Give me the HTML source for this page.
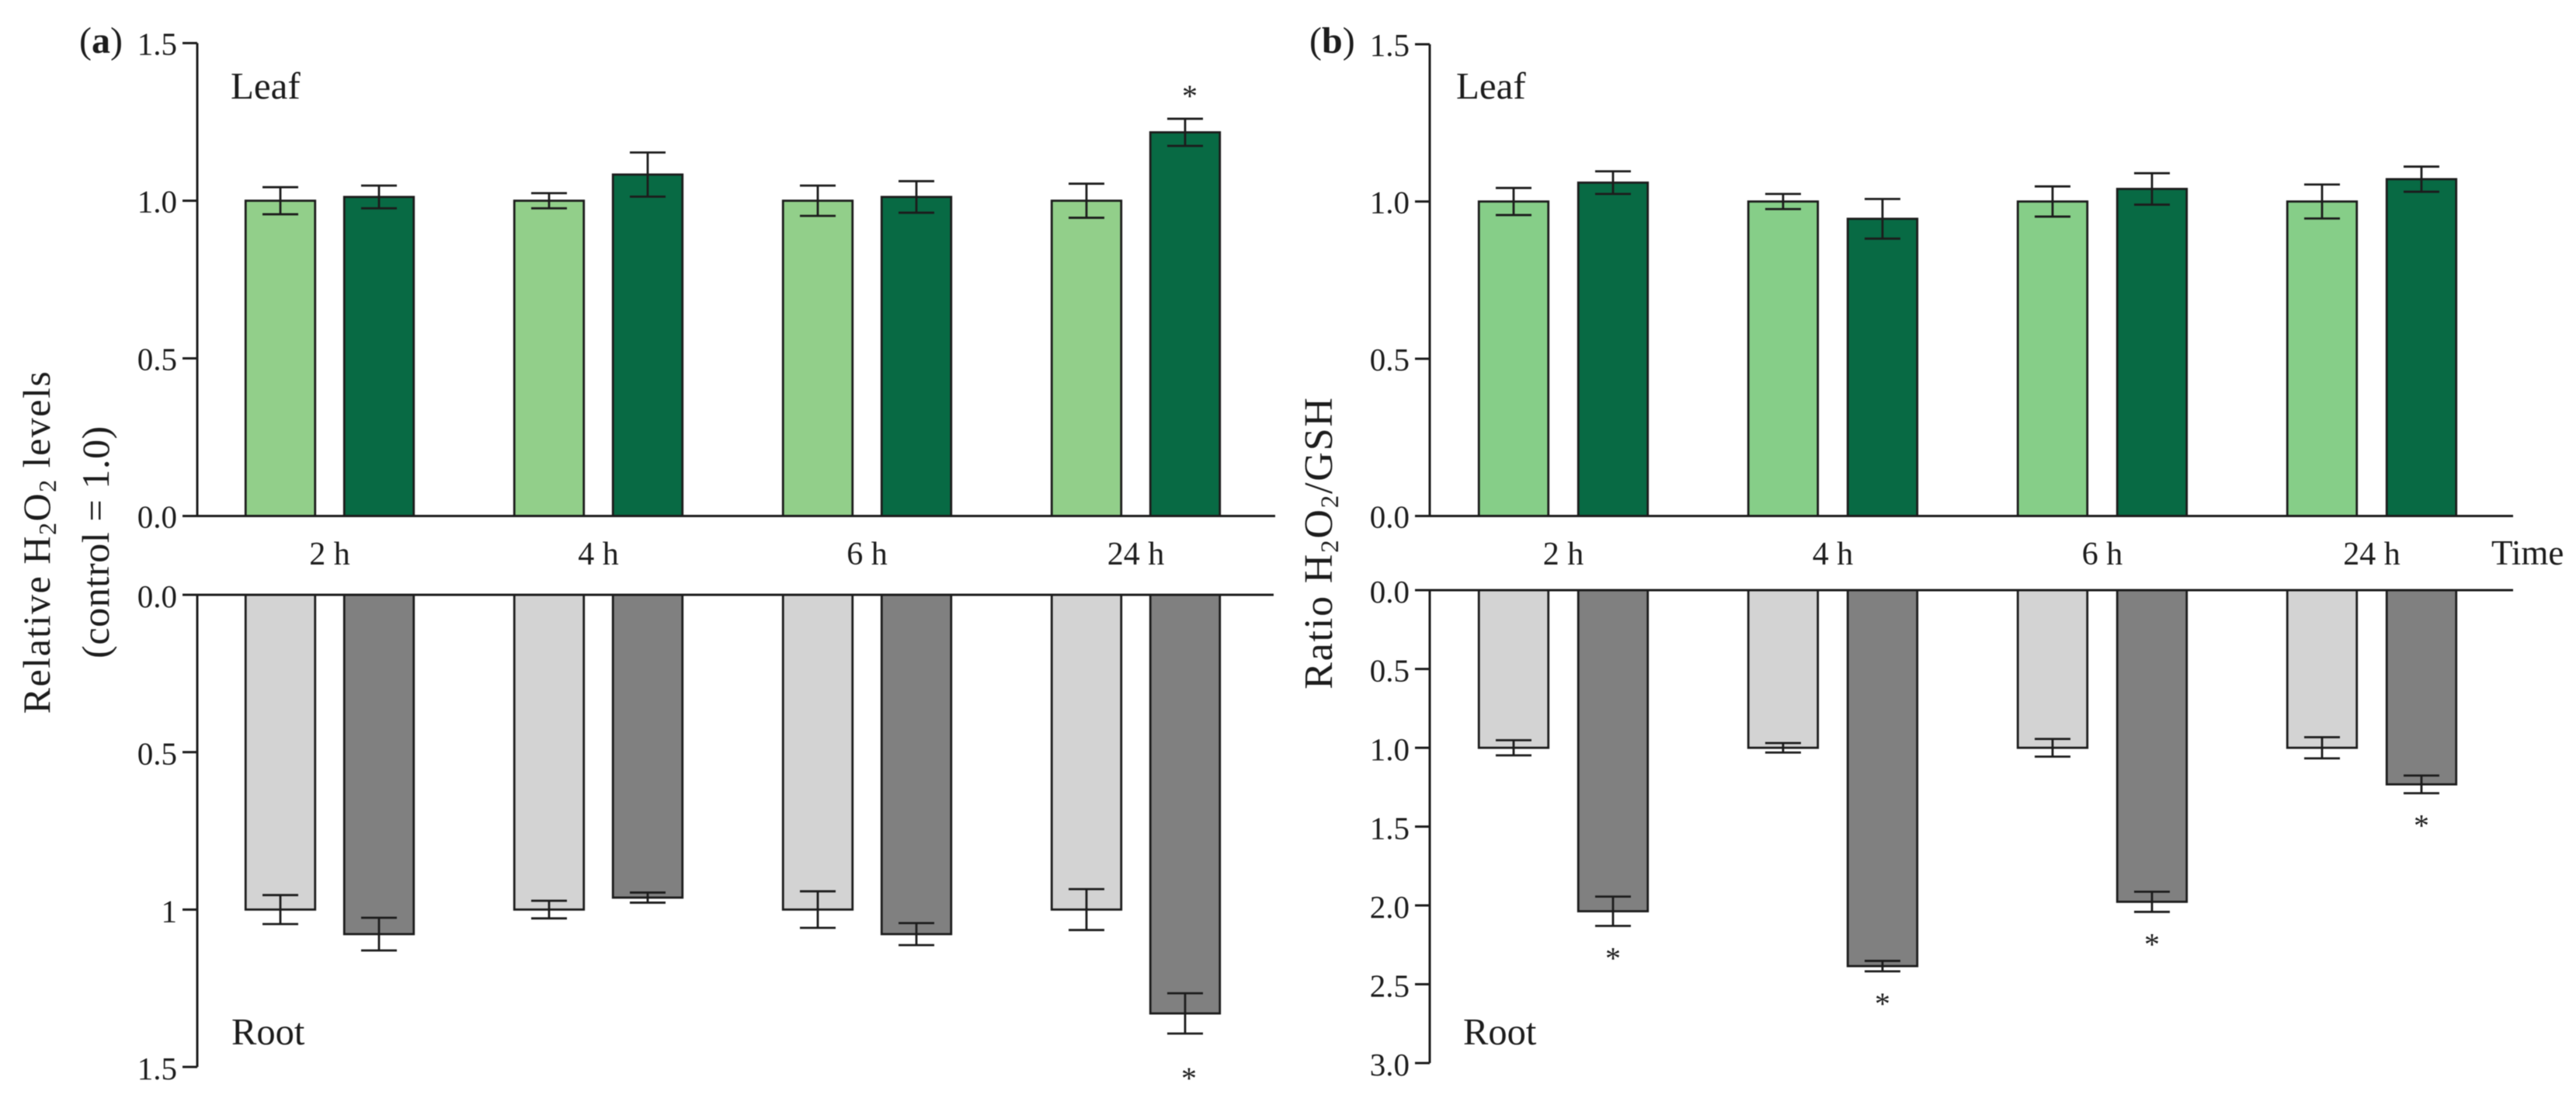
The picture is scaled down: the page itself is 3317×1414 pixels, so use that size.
<!DOCTYPE html>
<html lang="en">
<head>
<meta charset="utf-8">
<title>H2O2 levels and H2O2/GSH ratio in leaf and root</title>
<style>
html,body{margin:0;padding:0;background:#fff;width:3317px;height:1414px;overflow:hidden}
svg{display:block;filter:blur(0.5px)}
text{font-family:"Liberation Serif",serif;fill:#1c1c1c}
</style>
</head>
<body>
<svg id="chart" xmlns="http://www.w3.org/2000/svg" width="3317" height="1414" viewBox="0 0 3317 1414">
  <rect x="0" y="0" width="3317" height="1414" fill="#ffffff"/>

  <text x="102" y="68" font-size="48">(<tspan font-weight="bold">a</tspan>)</text>
  <text x="1686" y="68" font-size="48">(<tspan font-weight="bold">b</tspan>)</text>

  <text x="297" y="127" font-size="49">Leaf</text>
  <text x="298" y="1345" font-size="48.5">Root</text>
  <text x="1875" y="127" font-size="49">Leaf</text>
  <text x="1884" y="1345" font-size="48.5">Root</text>

  <text transform="translate(64,698) rotate(-90)" text-anchor="middle" font-size="50" letter-spacing="1.5">Relative H<tspan font-size="32" dy="8">2</tspan><tspan dy="-8">O</tspan><tspan font-size="32" dy="8">2</tspan><tspan dy="-8"> levels</tspan></text>
  <text transform="translate(140,698) rotate(-90)" text-anchor="middle" font-size="50" letter-spacing="0.6">(control = 1.0)</text>
  <text transform="translate(1715,699) rotate(-90)" text-anchor="middle" font-size="52" letter-spacing="1.8">Ratio H<tspan font-size="33" dy="8">2</tspan><tspan dy="-8">O</tspan><tspan font-size="33" dy="8">2</tspan><tspan dy="-8">/GSH</tspan></text>

  <text x="3208" y="727" font-size="45">Time</text>

  <g id="plots"></g>
</svg>

<script>
const categories = ['2 h', '4 h', '6 h', '24 h'];

const aTicks = [0, 0.5, 1, 1.5];
const aTopTickLabels = ['0.0', '0.5', '1.0', '1.5'];
const aBottomTickLabels = ['0.0', '0.5', '1', '1.5'];
const bTopTicks = [0, 0.5, 1, 1.5];
const bTopTickLabels = ['0.0', '0.5', '1.0', '1.5'];
const bBottomTicks = [0, 0.5, 1, 1.5, 2, 2.5, 3];
const bBottomTickLabels = ['0.0', '0.5', '1.0', '1.5', '2.0', '2.5', '3.0'];

const aLeafControl = [1.0, 1.0, 1.0, 1.0];
const aLeafControlErr = [0.043, 0.024, 0.048, 0.054];
const aLeafTreated = [1.012, 1.083, 1.012, 1.217];
const aLeafTreatedErr = [0.036, 0.07, 0.05, 0.043];
const aLeafStars = [0, 0, 0, 1];

const aRootControl = [1.0, 1.0, 1.0, 1.0];
const aRootControlErr = [0.046, 0.028, 0.058, 0.065];
const aRootTreated = [1.078, 0.962, 1.078, 1.33];
const aRootTreatedErr = [0.052, 0.016, 0.035, 0.064];
const aRootStars = [0, 0, 0, 1];

const bLeafControl = [1.0, 1.0, 1.0, 1.0];
const bLeafControlErr = [0.043, 0.024, 0.048, 0.054];
const bLeafTreated = [1.06, 0.945, 1.04, 1.071];
const bLeafTreatedErr = [0.036, 0.063, 0.05, 0.04];
const bLeafStars = [0, 0, 0, 0];

const bRootControl = [1.0, 1.0, 1.0, 1.0];
const bRootControlErr = [0.048, 0.03, 0.056, 0.067];
const bRootTreated = [2.037, 2.385, 1.977, 1.232];
const bRootTreatedErr = [0.093, 0.033, 0.064, 0.056];
const bRootStars = [1, 1, 1, 1];

const SVG_NS = 'http://www.w3.org/2000/svg';
const plots = document.getElementById('plots');
const INK = '#1c1c1c';

function mk(tag, attrs, parent) {
  const el = document.createElementNS(SVG_NS, tag);
  for (const k in attrs) el.setAttribute(k, attrs[k]);
  parent.appendChild(el);
  return el;
}

function linearScale(d0, d1, r0, r1) {
  return function (v) { return r0 + (v - d0) * (r1 - r0) / (d1 - d0); };
}

function drawBar(g, cx, y, y0, fill, name) {
  const w = 89.5;
  const top = Math.min(y, y0);
  const rect = mk('rect', { x: cx - w / 2, y: top, width: w, height: Math.abs(y - y0), fill: fill, stroke: INK, 'stroke-width': 2.8 }, g);
  
  
}

function drawError(g, cx, yLow, yHigh, name) {
  const cap = 23;
  const eb = mk('path', { d: 'M' + (cx - cap) + ' ' + yLow + 'H' + (cx + cap) + 'M' + (cx - cap) + ' ' + yHigh + 'H' + (cx + cap) + 'M' + cx + ' ' + yLow + 'V' + yHigh, fill: 'none', stroke: INK, 'stroke-width': 2.8 }, g);
  
  
}

function drawPanel(p) {
  const g = mk('g', {}, plots);
  
  
  const y = linearScale(p.domainMax, 0, p.yAtMax, p.yAtZero);
  const dir = p.yAtMax > p.yAtZero ? 1 : -1;

  categories.forEach(function (cat, i) {
    const xc = p.firstCenter + i * p.step;
    const xt = xc + p.pairOffset;
    drawBar(g, xc, y(p.control[i]), p.yAtZero, p.colors[0], p.name + '-control-bar-' + i);
    drawBar(g, xt, y(p.treated[i]), p.yAtZero, p.colors[1], p.name + '-treated-bar-' + i);
    drawError(g, xc, y(p.control[i] - p.controlErr[i]), y(p.control[i] + p.controlErr[i]), p.name + '-control-error-' + i);
    drawError(g, xt, y(p.treated[i] - p.treatedErr[i]), y(p.treated[i] + p.treatedErr[i]), p.name + '-treated-error-' + i);
    if (p.stars[i]) {
      const tipY = y(p.treated[i] + p.treatedErr[i]);
      const star = mk('text', { x: xt + p.starDx, y: tipY + dir * p.starGap + 19, 'text-anchor': 'middle', 'font-size': 40 }, g);
      star.textContent = '*';
      
      
    }
    if (p.showCategories) {
      const lab = mk('text', { x: xc + p.pairOffset / 2, y: 727, 'text-anchor': 'middle', 'font-size': 42 }, g);
      lab.textContent = cat;
      
      
    }
  });

  const yAxis = mk('line', { x1: p.axisX, x2: p.axisX, y1: y(p.domainMax), y2: p.yAtZero, stroke: INK, 'stroke-width': 3 }, g);
  
  

  const xAxis = mk('line', { x1: p.axisX - 19, x2: p.axisEnd, y1: p.yAtZero, y2: p.yAtZero, stroke: INK, 'stroke-width': 3 }, g);
  
  

  p.ticks.forEach(function (t, i) {
    const ty = y(t);
    const tick = mk('line', { x1: p.axisX - 19, x2: p.axisX, y1: ty, y2: ty, stroke: INK, 'stroke-width': 3 }, g);
    
    
    const lab = mk('text', { x: p.axisX - 26, y: ty + p.labelDy, 'text-anchor': 'end', 'font-size': 41 }, g);
    lab.textContent = p.tickLabels[i];
    
    
  });
}

drawPanel({
  name: 'panel-a-leaf', control: aLeafControl, controlErr: aLeafControlErr, treated: aLeafTreated, treatedErr: aLeafTreatedErr, stars: aLeafStars,
  ticks: aTicks, tickLabels: aTopTickLabels, domainMax: 1.5, yAtMax: 55.5, yAtZero: 664.5,
  firstCenter: 361, step: 346, pairOffset: 127, axisX: 254, axisEnd: 1642, labelDy: 15,
  colors: ['#92cf8a', '#086a44'], starGap: 35, starDx: 6, showCategories: true
});
drawPanel({
  name: 'panel-a-root', control: aRootControl, controlErr: aRootControlErr, treated: aRootTreated, treatedErr: aRootTreatedErr, stars: aRootStars,
  ticks: aTicks, tickLabels: aBottomTickLabels, domainMax: 1.5, yAtMax: 1374, yAtZero: 766,
  firstCenter: 361, step: 346, pairOffset: 127, axisX: 254, axisEnd: 1640, labelDy: 16,
  colors: ['#d3d3d3', '#808080'], starGap: 52, starDx: 5, showCategories: false
});
drawPanel({
  name: 'panel-b-leaf', control: bLeafControl, controlErr: bLeafControlErr, treated: bLeafTreated, treatedErr: bLeafTreatedErr, stars: bLeafStars,
  ticks: bTopTicks, tickLabels: bTopTickLabels, domainMax: 1.5, yAtMax: 57, yAtZero: 664.5,
  firstCenter: 1949, step: 347, pairOffset: 128, axisX: 1841, axisEnd: 3236, labelDy: 15,
  colors: ['#86ce88', '#086a44'], starGap: 36, starDx: 0, showCategories: true
});
drawPanel({
  name: 'panel-b-root', control: bRootControl, controlErr: bRootControlErr, treated: bRootTreated, treatedErr: bRootTreatedErr, stars: bRootStars,
  ticks: bBottomTicks, tickLabels: bBottomTickLabels, domainMax: 3, yAtMax: 1369, yAtZero: 760,
  firstCenter: 1949, step: 347, pairOffset: 128, axisX: 1841, axisEnd: 3236, labelDy: 16,
  colors: ['#d3d3d3', '#808080'], starGap: 36, starDx: 0, showCategories: false
});
</script>
</body>
</html>
